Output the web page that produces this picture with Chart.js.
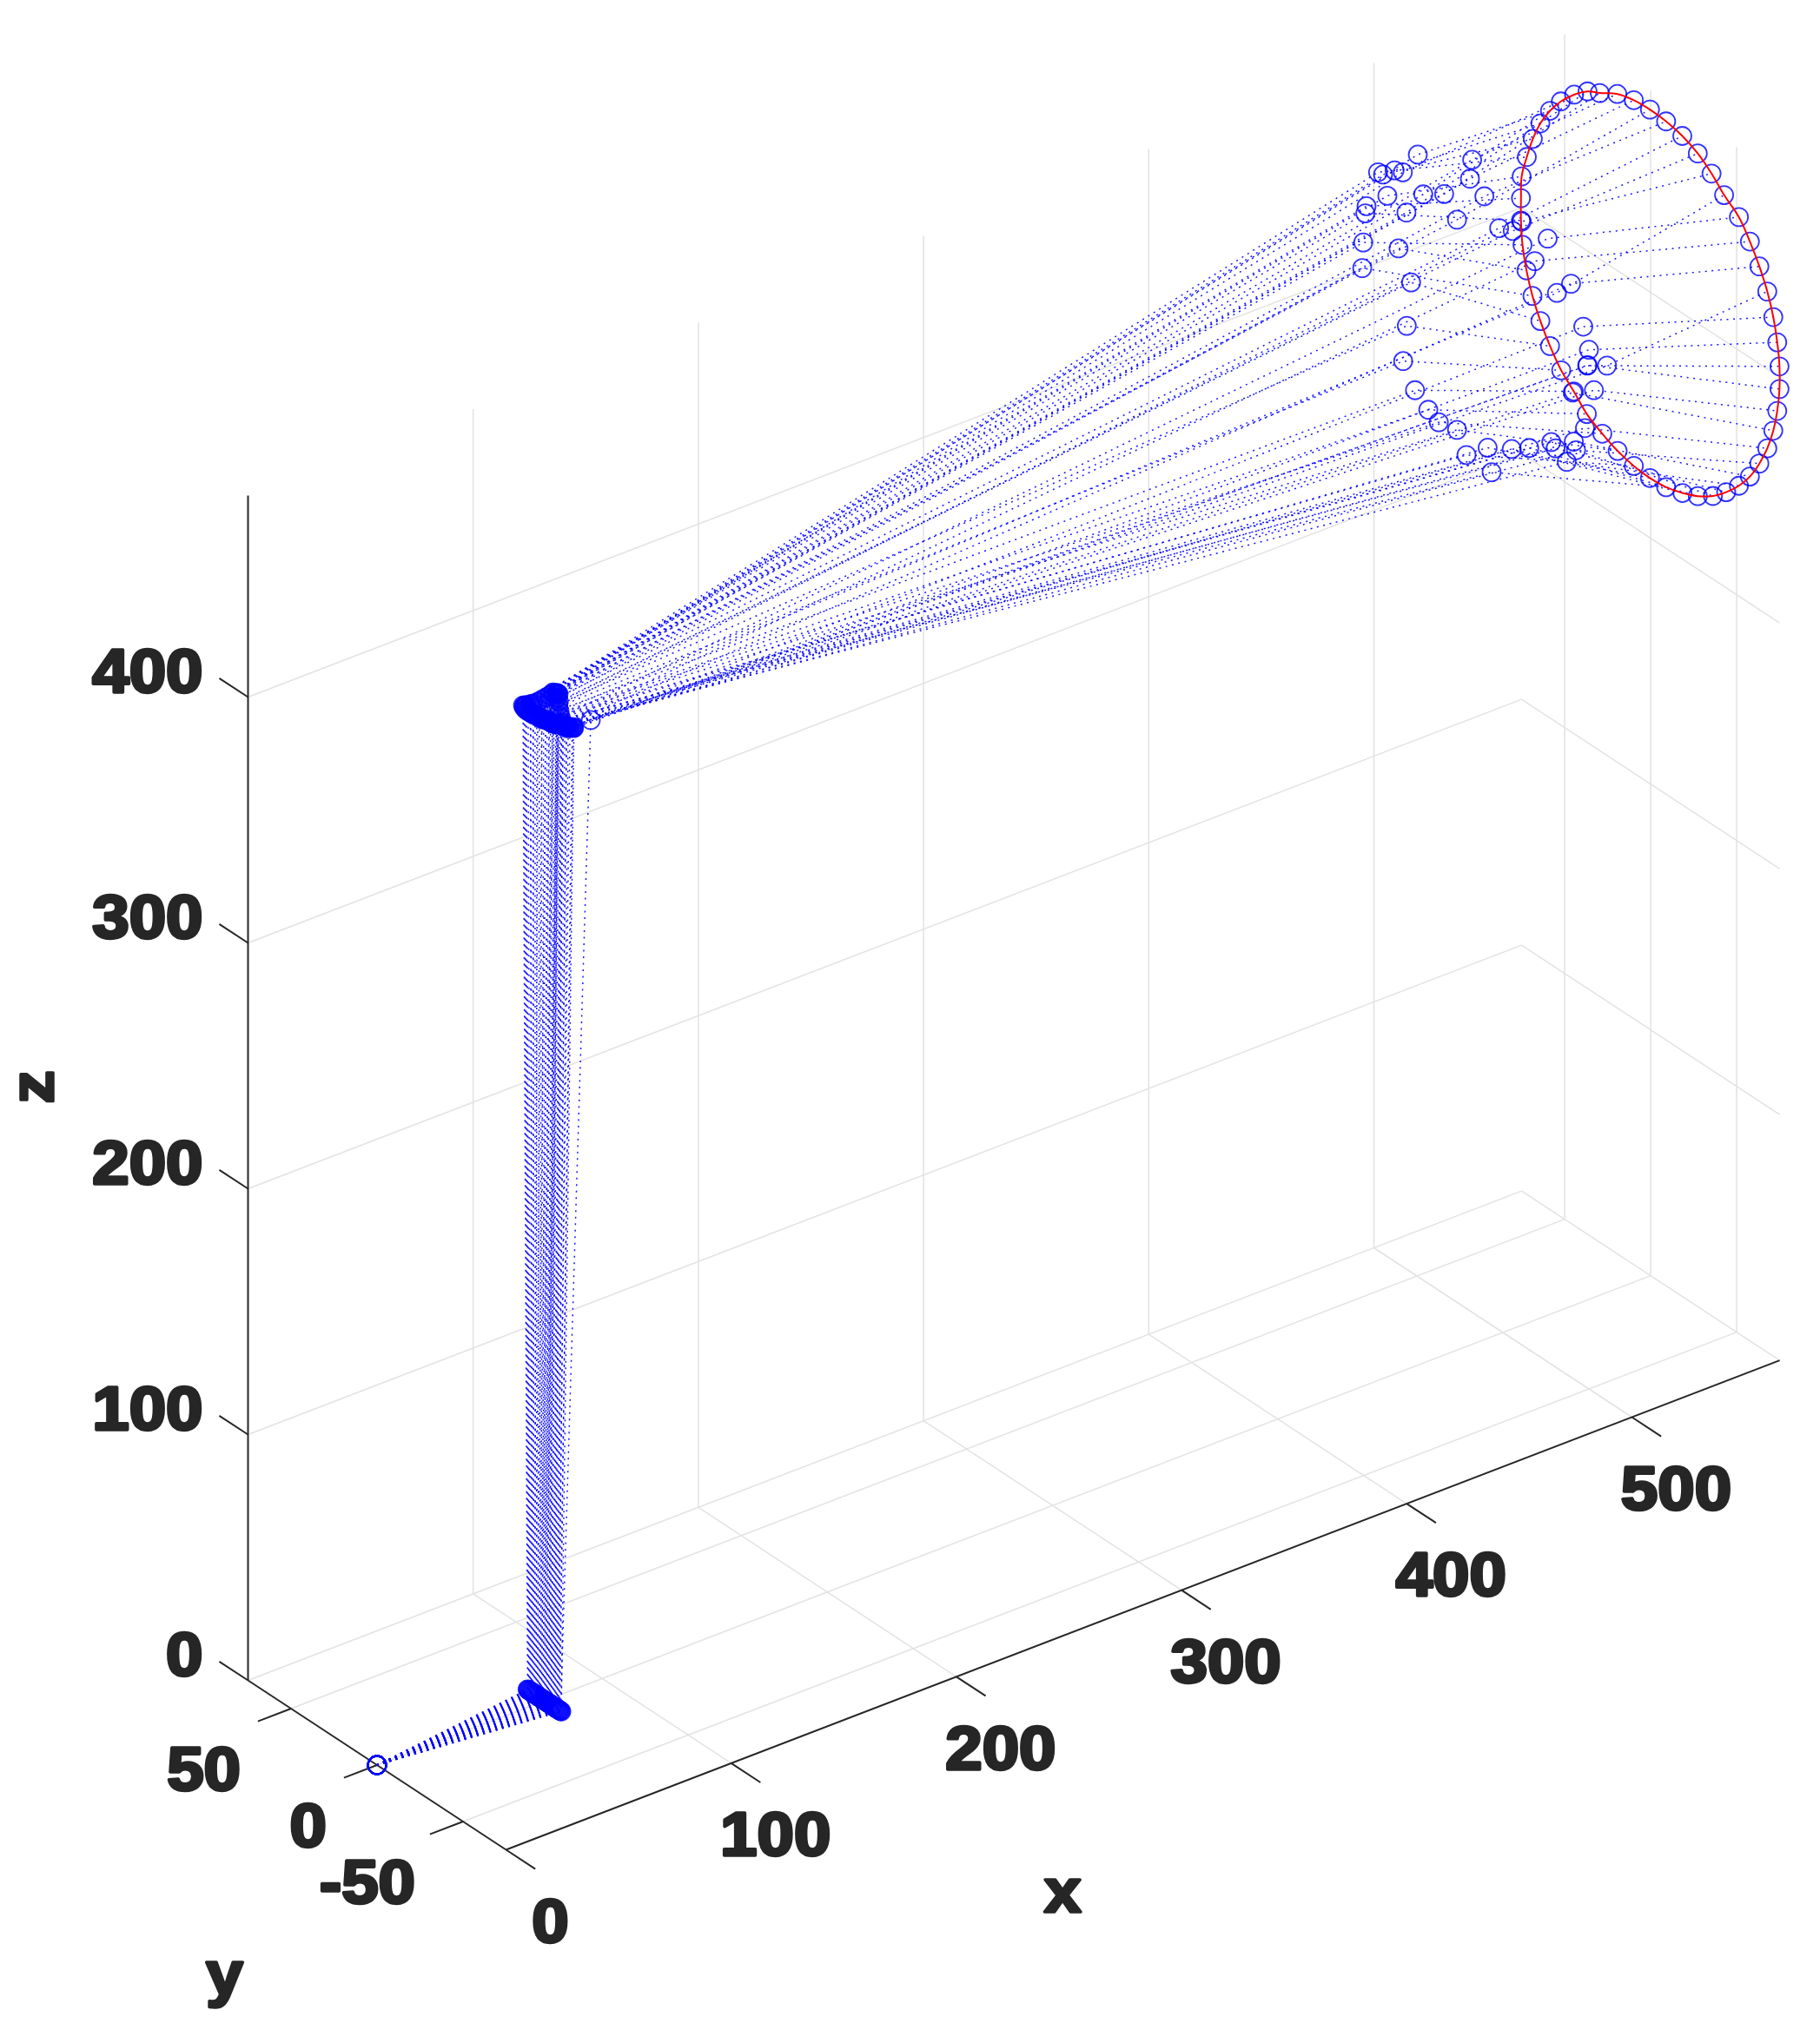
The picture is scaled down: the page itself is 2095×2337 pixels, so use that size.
<!DOCTYPE html>
<html>
<head>
<meta charset="utf-8">
<title>ray paths</title>
<script src="https://cdn.jsdelivr.net/npm/chart.js@4/dist/chart.umd.min.js"></script>
<style>
  html, body { margin: 0; background: #fff; }
  canvas { display: block; }
</style>
</head>
<body>
<canvas id="myChart" width="2095" height="2337"></canvas>
<script>
// axis ticks
const xTicks = [0, 100, 200, 300, 400, 500];
const yTicks = [-50, 0, 50];
const zTicks = [0, 100, 200, 300, 400];
const xMax = 565.6, yMax = 75, zMax = 482;

// ray start
const source = [0, 0, 0];

// floor points, x and z are the same for all of them
const floorX = 74.5;
const floorZ = 0;
const floorY = [
  10.0, 9.2, 8.4, 7.6, 6.8, 6.0, 5.2, 4.4, 3.6, 2.8, 2.0, 1.2, 0.4, -0.4, -1.2, -2.0, -2.8, -3.6, -4.4, -5.2, -6.0, -6.8, -7.6, -8.4, -9.2,
  -9.6, -8.8, -8.0, -7.2, -6.4, -5.6, -4.8, -4.0, -3.2, -2.4, -1.6, -0.8, 0.0, 0.8, 1.6, 2.4, 3.2, 4.0, 4.8, 5.6, 6.4, 7.2, 8.0, 8.8, 9.6
];

// points above the floor points
const topX = [
  74, 74, 74, 75, 75, 76, 77, 78, 79, 80, 80, 81, 81, 81, 80, 80, 79, 78, 77, 76, 75, 75, 75, 75, 87.9,
  76, 76, 75, 75, 75, 75, 75, 74, 74, 74, 74, 74, 74, 74, 74, 74, 74, 74, 74, 74, 74, 74, 74, 74, 74
];
const topY = [
  12, 11, 10, 9, 7.5, 6, 5, 4, 3, 2.5, 2, 1.5, 1, 0.5, 0, -1, -2, -4, -6, -8, -10, -12, -14, -16, -9.2,
  -15, -14, -13, -12, -11, -10, -9, -8, -7, -6, -5, -4, -3, -2, -1, 0, 1, 2.5, 4, 5, 6, 7.5, 9, 10.5, 11.5
];
const topZ = [
  399.5, 400, 400.5, 401, 402, 403, 404, 405, 406, 407, 407, 407, 407, 407, 406, 405, 404, 403, 402, 401, 401, 401, 402, 403, 398.4,
  402, 402, 402, 401.5, 401.5, 401, 401, 401, 400.5, 400.5, 400, 400, 400, 400, 399.5, 399.5, 399, 399, 399, 399, 398.5, 398.5, 398.5, 398.5, 399
];

// inner set of circles
const innerX = 480;
const innerY = [
  53.1, 41, 46.4, 43.5, 36.8, 23.3, 32, 20.1, 29.9, 8, -8.3, -7, 0.5, -15.4, -24, -31.9, -37.1, -57.6, -52.2, -44.7, -65.8, -86.7, -72.9, -76.2, -75.2,
  -75.4, -79.1, -66.8, -73.9, -68.7, -67.4, -63.3, -56.8, -54.3, -41.5, -31.3, -19.6, -17.3, -5, 0.5, 11.1, 17.2, 24.9, 31.8, 29.7, 27.2, 55.6, 34.5, 55, 53.8
];
const innerZ = [
  440.8, 450.6, 457.7, 458.1, 462.9, 475.5, 464.3, 460.8, 448.9, 466.5, 487.9, 479.6, 459.5, 476.3, 467.3, 469.8, 476, 456.4, 476, 463.4, 463.9, 440.2, 449.7, 441.8, 434.9,
  435.2, 426.7, 420.1, 408.9, 397.5, 400.4, 390.3, 392.8, 394.2, 385.9, 380.8, 366, 374.9, 366.3, 374, 372.2, 374.5, 378.9, 387.6, 402.9, 421.7, 414.5, 432.2, 425.2, 437.6
];

// outer ring
const ringX = 565;
const ringY = [
  74.6, 74.2, 71.2, 67.7, 63.3, 57.7, 51.4, 43.7, 35.9, 28.8, 18.6, 9, -0.4, -9.8, -19.2, -28.2, -36.2, -43.5, -52.1, -58.5, -64, -68.6, -72.1, -74.4, -75.7,
  -75.7, -74.4, -72.1, -68.6, -64, -58.5, -52.1, -44.7, -37, -28.2, -19.3, -9.8, -0.4, 9, 18.4, 27.3, 36.3, 43.9, 51.2, 57.7, 63.3, 67.9, 71.4, 73.7, 74.6
];
const ringZ = [
  404.3, 413.3, 422.6, 431.6, 439.9, 447.6, 454.3, 460.6, 465.5, 468.1, 472.4, 474.3, 474.8, 474.3, 472.7, 469.7, 465.2, 459.8, 454.8, 447.8, 440.2, 432.1, 423.3, 414.1, 404.9,
  395.7, 386.2, 377.1, 368.3, 360, 352.2, 345.5, 339.5, 334.4, 330.3, 327.5, 325.5, 324.9, 325.5, 327.3, 330.2, 334.1, 339.8, 345, 351.9, 359.5, 367.6, 376.4, 385.7, 395.2
];

// -----------------------------------------------------------------
// fixed 3d view, data units -> flat view units
function project(x, y, z) {
  return {
    x: 434 + 2.592 * x - 1.98 * y,
    y: 2032 - 0.996 * x - 1.30 * y - 2.83 * z,
  };
}

function segment(a, b, color, width) {
  return {
    data: [project(a[0], a[1], a[2]), project(b[0], b[1], b[2])],
    showLine: true,
    pointRadius: 0,
    borderColor: color,
    borderWidth: width,
  };
}

const gridColor = '#e2e2e2';
const axisColor = '#262626';
const outlier = 24; // the one top point that sits away from the blob
const datasets = [];

// ring goes first so it stays on top of the circles
const ringLine = ringY.map((y, i) => project(ringX, y, ringZ[i]));
ringLine.push(ringLine[0]);
datasets.push({
  data: ringLine,
  showLine: true,
  tension: 0.4,
  pointRadius: 0,
  borderColor: '#ff0000',
  borderWidth: 2,
});

// ray paths
ringY.forEach((ry, i) => {
  const topFill = i === outlier ? 'rgba(0,0,0,0)' : 'rgba(0,0,255,0.45)';
  datasets.push({
    data: [
      project(source[0], source[1], source[2]),
      project(floorX, floorY[i], floorZ),
      project(topX[i], topY[i], topZ[i]),
      project(innerX, innerY[i], innerZ[i]),
      project(ringX, ry, ringZ[i]),
    ],
    showLine: true,
    borderColor: 'rgba(0,0,255,0.9)',
    borderWidth: 1.5,
    borderDash: [2, 5.5],
    pointRadius: 10.5,
    pointBorderWidth: 1.8,
    pointBorderColor: 'rgba(0,0,255,0.8)',
    pointBackgroundColor: ['rgba(0,0,0,0)', 'rgba(0,0,0,0)', topFill, 'rgba(0,0,0,0)', 'rgba(0,0,0,0)'],
  });
});

// axes and tick marks
datasets.push(segment([0, yMax, 0], [0, yMax, zMax], axisColor, 2));
datasets.push(segment([0, yMax, 0], [0, -yMax, 0], axisColor, 2));
datasets.push(segment([0, -yMax, 0], [xMax, -yMax, 0], axisColor, 2));
zTicks.forEach((z) => datasets.push(segment([0, yMax, z], [0, yMax + 16.7, z], axisColor, 2)));
yTicks.forEach((y) => datasets.push(segment([0, y, 0], [-14.7, y, 0], axisColor, 2)));
xTicks.forEach((x) => datasets.push(segment([x, -yMax, 0], [x, -yMax - 17, 0], axisColor, 2)));

// grid on floor and the two back walls
xTicks.slice(1).forEach((x) => {
  datasets.push(segment([x, -yMax, 0], [x, yMax, 0], gridColor, 1.5));
  datasets.push(segment([x, yMax, 0], [x, yMax, zMax], gridColor, 1.5));
});
yTicks.forEach((y) => {
  datasets.push(segment([0, y, 0], [xMax, y, 0], gridColor, 1.5));
  datasets.push(segment([xMax, y, 0], [xMax, y, zMax], gridColor, 1.5));
});
zTicks.forEach((z) => {
  datasets.push(segment([0, yMax, z], [xMax, yMax, z], gridColor, 1.5));
  datasets.push(segment([xMax, yMax, z], [xMax, -yMax, z], gridColor, 1.5));
});

// -----------------------------------------------------------------
// tick labels have to follow the slanted axes, the library only does straight ones
const axisLabels = {
  id: 'axisLabels',
  afterDraw(chart) {
    const { ctx, scales } = chart;
    const px = (p) => ({ x: scales.x.getPixelForValue(p.x), y: scales.y.getPixelForValue(p.y) });

    function label(text, at, dx, dy, align, rotate) {
      const p = px(at);
      ctx.save();
      ctx.translate(p.x + dx, p.y + dy);
      if (rotate) ctx.rotate(rotate);
      ctx.scale(1.09, 1);
      ctx.font = 'bold 70px "Liberation Sans"';
      ctx.textAlign = align;
      ctx.textBaseline = 'middle';
      ctx.fillStyle = axisColor;
      ctx.strokeStyle = axisColor;
      ctx.lineWidth = 3.5;
      ctx.lineJoin = 'round';
      ctx.strokeText(text, 0, 0);
      ctx.fillText(text, 0, 0);
      ctx.restore();
    }

    zTicks.forEach((z) => label(String(z), project(0, yMax, z), -52, -25, 'right'));
    yTicks.forEach((y) => label(String(y), project(0, y, 0), y < 0 ? -55 : -58, 75, 'right'));
    xTicks.forEach((x) => label(String(x), project(x, -yMax, 0), 51, 87, 'center'));

    label('x', project(300, -yMax, 0), -137, 351, 'center');
    label('y', project(0, yMax, 0), -27, 342, 'center');
    label('z', project(0, yMax, 240), -244, -4, 'center', -Math.PI / 2);
  },
};

new Chart(document.getElementById('myChart').getContext('2d'), {
  type: 'scatter',
  data: { datasets },
  plugins: [axisLabels],
  options: {
    responsive: false,
    animation: false,
    layout: { padding: 0, autoPadding: false },
    plugins: { legend: { display: false }, tooltip: { enabled: false } },
    scales: {
      x: { type: 'linear', min: 0, max: 2095, display: false },
      y: { type: 'linear', min: 0, max: 2337, reverse: true, display: false },
    },
  },
});
</script>
</body>
</html>
